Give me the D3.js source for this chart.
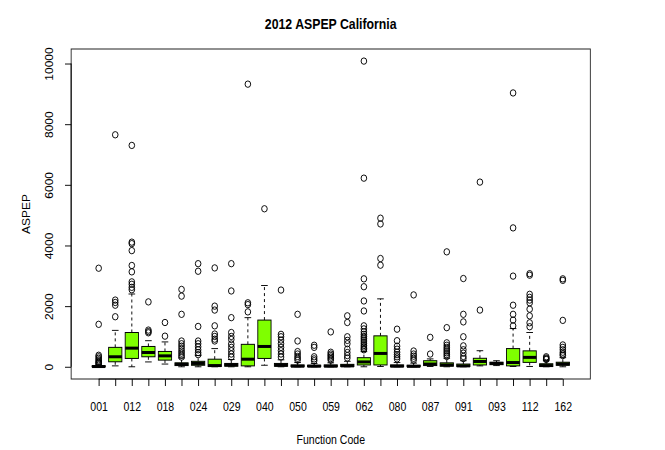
<!DOCTYPE html>
<html lang="en">
<head>
<meta charset="UTF-8">
<title>2012 ASPEP California</title>
<script src="https://cdn.jsdelivr.net/npm/d3@7"></script>
<style>
  body { margin: 0; background: #fff; }
  svg { font-family: "Liberation Sans", Arial, sans-serif; }
</style>
</head>
<body>
<svg id="chart" width="665" height="450"></svg>
<script>
// function codes, one box each
const codes = ["001","005","012","016","018","023","024","025","029","032",
  "040","044","050","052","059","061","062","079","080","081",
  "087","089","091","092","093","094","112","124","162"];

const whiskerLow = [0,30,0,160,90,0,0,0,0,0, 50,0,0,0,0,0,0,10,0,0, 10,0,0,30,40,10,10,0,0];
const q1 = [0,165,275,330,220,40,50,10,20,30, 275,20,5,5,5,10,60,60,5,5, 40,20,10,60,70,30,145,10,50];
const median = [8,330,615,470,360,80,110,40,60,250, 670,50,20,20,20,30,160,440,20,15, 90,60,30,175,110,140,310,40,90];
const q3 = [30,640,1130,670,505,130,180,250,110,740, 1540,110,60,50,60,80,300,1020,60,50, 200,130,90,280,150,600,525,100,150];
const whiskerHigh = [70,1200,2400,860,820,290,370,600,240,1620, 2680,230,140,110,130,180,500,2240,140,120, 260,280,200,530,200,1260,1130,200,300];

const outliers = [
  [3250,1400,380,330,280,230,190,150,120,100],
  [7650,2200,2120,2030,1650],
  [7300,4110,4060,3830,3340,3130,2800,2720,2620,2540],
  [2140,1210,1160,1120],
  [1460,1010],
  [2550,2330,1730,850,760,680,600,520,450,380,320],
  [3400,3150,1330,850,760,660,560,470,400],
  [3260,2000,1870,1350,1080,1000,910,850],
  [3400,2500,1620,1130,1000,900,750,640,530,420,320],
  [9320,2110,2050,1810],
  [5210],
  [2530,1070,990,880,760,640,530,420,320],
  [1730,850,500,420,340,280,220],
  [710,640,330,260,200],
  [1150,480,420,370,320,270,220],
  [1680,1460,990,870,760,580,470,370,290],
  [10080,6220,2900,2640,2170,1840,1350,1250,1150,1070,1000,940,880,820,760,700,650,600,560],
  [4900,4710,3570,3350],
  [1240,860,680,580,480,400,330,260],
  [2370,520,420,350,280,220],
  [970,420],
  [3790,1290,790,710,640,580,520,460,400,340],
  [2910,1730,1480,990,690,560,450,340,270],
  [6090,1870],
  [],
  [9030,4580,2990,2030,1730,1540,1350],
  [3070,3020,2390,2290,2200,2110,1900,1680,1450,1320],
  [330,290,260,240],
  [2900,2850,1530,720,640,560,480,420,370]
];

const yTicks = [0, 2000, 4000, 6000, 8000, 10000];

// the original plot was drawn wider and squeezed to 665 px
const stretch = 665 / 757;
const svg = d3.select('#chart');
const root = svg.append('g').attr('transform', `scale(${stretch},1)`);

const plotLeft = 81, plotRight = 672, plotTop = 49, plotBottom = 379;

// R style: xlim c(0.5, n + 0.5) padded by 4%
const n = codes.length;
const pad = n * 0.04;
const x = d3.scaleLinear().domain([0.5 - pad, n + 0.5 + pad]).range([plotLeft, plotRight]);
const y = d3.scaleLinear().domain([-403, 10479]).range([plotBottom, plotTop]);

const unit = x(2) - x(1);
const boxW = unit * 0.8;
const capW = boxW / 2;

const data = codes.map((c, i) => ({
  code: c, pos: i + 1,
  lo: whiskerLow[i], q1: q1[i], med: median[i], q3: q3[i], hi: whiskerHigh[i],
  out: outliers[i]
}));

const box = root.append('g').selectAll('g.box').data(data).join('g').attr('class', 'box');

// whiskers (dashed)
box.append('line')
  .attr('x1', d => x(d.pos)).attr('x2', d => x(d.pos))
  .attr('y1', d => y(d.q3)).attr('y2', d => y(d.hi))
  .attr('stroke', '#000').attr('stroke-dasharray', '3,3');
box.append('line')
  .attr('x1', d => x(d.pos)).attr('x2', d => x(d.pos))
  .attr('y1', d => y(d.q1)).attr('y2', d => y(d.lo))
  .attr('stroke', '#000').attr('stroke-dasharray', '3,3');

// staples
box.selectAll('line.cap').data(d => [d.lo, d.hi].map(v => ({ pos: d.pos, v })))
  .join('line').attr('class', 'cap')
  .attr('x1', d => x(d.pos) - capW / 2).attr('x2', d => x(d.pos) + capW / 2)
  .attr('y1', d => y(d.v)).attr('y2', d => y(d.v))
  .attr('stroke', '#000');

// boxes
box.append('rect')
  .attr('x', d => x(d.pos) - boxW / 2)
  .attr('width', boxW)
  .attr('y', d => y(d.q3))
  .attr('height', d => Math.max(0.5, y(d.q1) - y(d.q3)))
  .attr('fill', '#7fff00')
  .attr('stroke', '#000');

// medians
box.append('line')
  .attr('x1', d => x(d.pos) - boxW / 2).attr('x2', d => x(d.pos) + boxW / 2)
  .attr('y1', d => y(d.med)).attr('y2', d => y(d.med))
  .attr('stroke', '#000').attr('stroke-width', 3);

// outliers
box.selectAll('circle').data(d => d.out.map(v => ({ pos: d.pos, v })))
  .join('circle')
  .attr('cx', d => x(d.pos)).attr('cy', d => y(d.v))
  .attr('r', 3.2)
  .attr('fill', 'none').attr('stroke', '#000');

// frame
root.append('rect')
  .attr('x', plotLeft).attr('y', plotTop)
  .attr('width', plotRight - plotLeft).attr('height', plotBottom - plotTop)
  .attr('fill', 'none').attr('stroke', '#222');

// x axis: tick on every box, label every other one
const xAxis = d3.axisBottom(x)
  .tickValues(d3.range(1, n + 1))
  .tickSize(7).tickPadding(16)
  .tickFormat(d => (d % 2 === 1 ? codes[d - 1] : ''));
const gx = root.append('g').attr('transform', `translate(0,${plotBottom})`).call(xAxis);
gx.select('.domain').attr('d', `M${x(1)},0H${x(n)}`);
gx.selectAll('text').attr('font-size', 12).attr('fill', '#000').attr('font-family', null);

// y axis with rotated labels
const yAxis = d3.axisLeft(y).tickValues(yTicks).tickSize(7).tickPadding(0)
  .tickFormat(d3.format('d'));
const gy = root.append('g').attr('transform', `translate(${plotLeft},0)`).call(yAxis);
gy.select('.domain').attr('d', `M0,${y(0)}V${y(10000)}`);
gy.selectAll('.tick text')
  .attr('font-size', 12).attr('fill', '#000').attr('font-family', null)
  .attr('x', null).attr('dy', null)
  .attr('text-anchor', 'middle')
  .attr('transform', 'translate(-21,0) rotate(-90)');

// titles
root.append('text')
  .attr('x', (plotLeft + plotRight) / 2).attr('y', 29)
  .attr('text-anchor', 'middle')
  .attr('font-weight', 'bold').attr('font-size', 14)
  .text('2012 ASPEP California');

root.append('text')
  .attr('x', (plotLeft + plotRight) / 2).attr('y', 444)
  .attr('text-anchor', 'middle').attr('font-size', 12)
  .text('Function Code');

root.append('text')
  .attr('transform', `translate(34,${(plotTop + plotBottom) / 2}) rotate(-90)`)
  .attr('text-anchor', 'middle').attr('font-size', 12)
  .text('ASPEP');
</script>
</body>
</html>
